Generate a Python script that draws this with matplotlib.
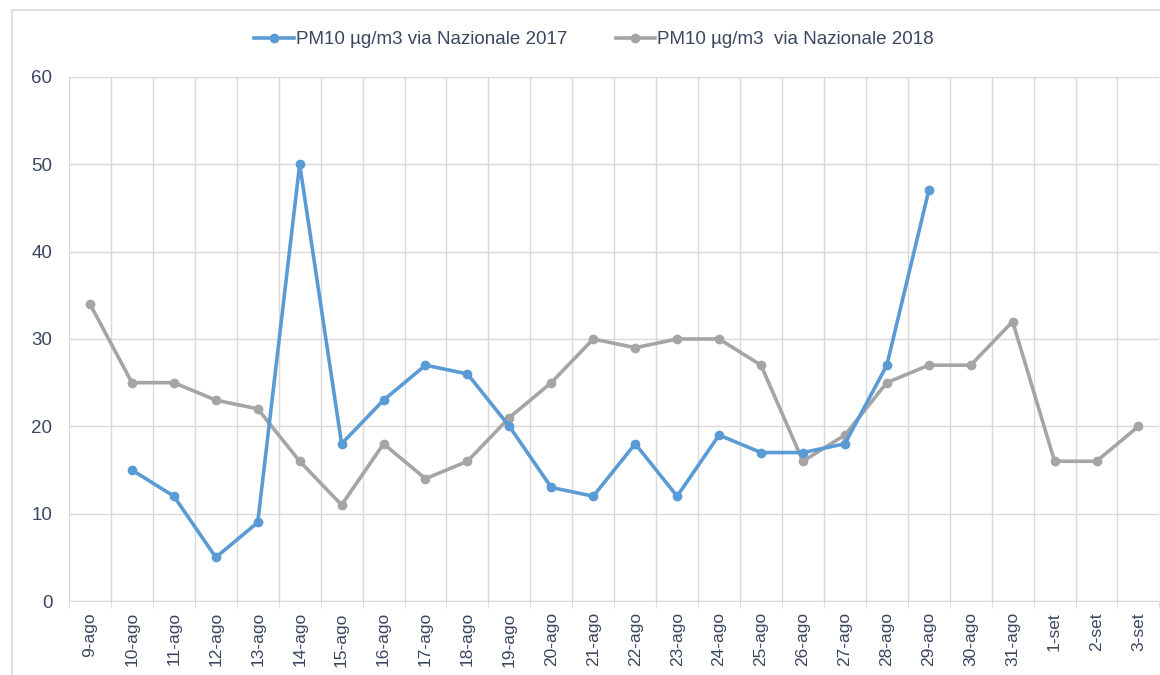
import numpy as np
import matplotlib.pyplot as plt
from matplotlib.patches import Rectangle

plt.rcParams['font.family'] = ['Liberation Sans', 'DejaVu Sans']

labels = ['9-ago', '10-ago', '11-ago', '12-ago', '13-ago', '14-ago', '15-ago',
          '16-ago', '17-ago', '18-ago', '19-ago', '20-ago', '21-ago', '22-ago',
          '23-ago', '24-ago', '25-ago', '26-ago', '27-ago', '28-ago', '29-ago',
          '30-ago', '31-ago', '1-set', '2-set', '3-set']
pm10_2017 = [np.nan, 15, 12, 5, 9, 50, 18, 23, 27, 26, 20, 13, 12, 18, 12,
             19, 17, 17, 18, 27, 47, np.nan, np.nan, np.nan, np.nan, np.nan]
pm10_2018 = [34, 25, 25, 23, 22, 16, 11, 18, 14, 16, 21, 25, 30, 29, 30,
             30, 27, 16, 19, 25, 27, 27, 32, 16, 16, 20]

BLUE = '#5b9bd5'
GRAY = '#a5a5a5'
TXT = '#3b4660'

fig = plt.figure(figsize=(11.6, 6.75), dpi=100)
ax = fig.add_axes([0.0595, 0.1096, 0.94, 0.7764])
# light outer frame (right/bottom fall outside the crop)
fig.patches.append(Rectangle((0.0103, -0.05), 1.2, 1.035, transform=fig.transFigure,
                             fill=False, edgecolor='#d9d9d9', lw=1.2))

x = np.arange(len(labels))
ax.plot(x, pm10_2018, color=GRAY, lw=2.6, marker='o', ms=6,
        label='PM10 µg/m3  via Nazionale 2018', zorder=3)
ax.plot(x, pm10_2017, color=BLUE, lw=2.6, marker='o', ms=6,
        label='PM10 µg/m3 via Nazionale 2017', zorder=4)

ax.set_xlim(-0.5, len(labels) - 0.5)
ax.set_ylim(0, 60)
ax.set_yticks(range(0, 61, 10))
ax.set_xticks(x)
ax.set_xticklabels(labels, rotation=90)
ax.set_xticks(np.arange(-0.5, len(labels), 1), minor=True)

ax.grid(True, axis='y', color='#d9d9d9', lw=1)
ax.grid(True, axis='x', which='minor', color='#d9d9d9', lw=1)
ax.set_axisbelow(True)
ax.tick_params(axis='x', which='major', length=0, pad=8, labelsize=12.5, labelcolor=TXT)
ax.tick_params(axis='x', which='minor', length=5, color='#d9d9d9')
ax.tick_params(axis='y', length=0, pad=12, labelsize=13.5, labelcolor=TXT)
for s in ['top', 'right', 'left']:
    ax.spines[s].set_visible(False)
ax.spines['bottom'].set_color('#d9d9d9')

h, l = ax.get_legend_handles_labels()
fig.legend(h[::-1], l[::-1], loc='center', bbox_to_anchor=(0.512, 0.941), ncol=2,
           frameon=False, fontsize=13.5, handlelength=2.1, columnspacing=2.6,
           handletextpad=0.1, labelcolor=TXT)

fig.savefig('out.png', dpi=100)
